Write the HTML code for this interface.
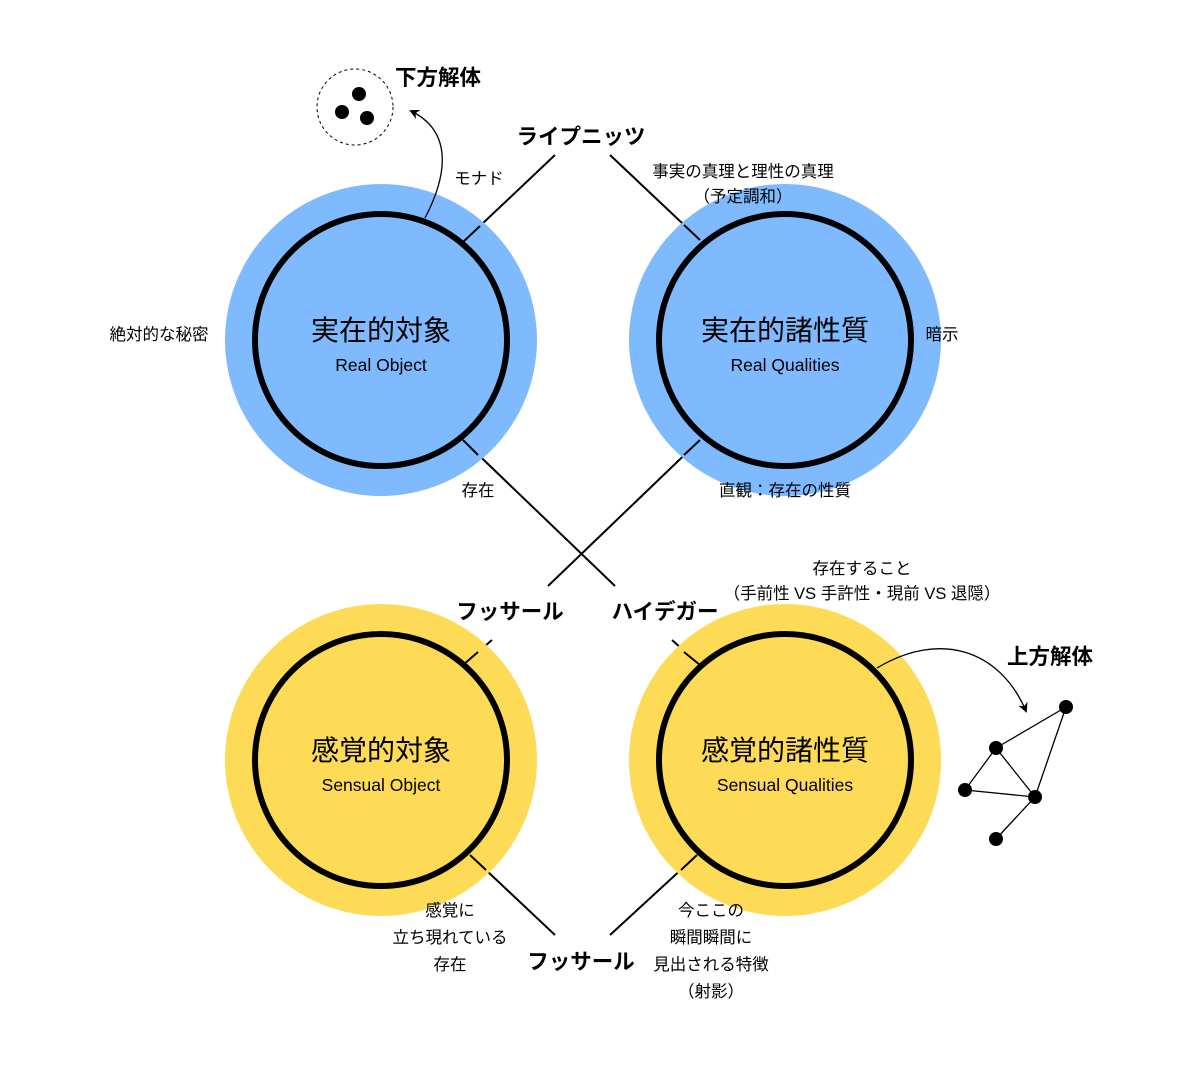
<!DOCTYPE html>
<html><head><meta charset="utf-8"><style>
html,body{margin:0;padding:0;background:#fff;}
svg text{font-family:"Liberation Sans","Noto Sans CJK JP",sans-serif;fill:#000;}
</style></head><body>
<svg width="1200" height="1070" viewBox="0 0 1200 1070" xmlns="http://www.w3.org/2000/svg">
<defs><marker id="ah" markerWidth="10" markerHeight="10" refX="8" refY="5" orient="auto" markerUnits="userSpaceOnUse"><path d="M0,0 L10,5 L0,10 L3,5 z" fill="#000"/></marker></defs>
<g stroke="#000" stroke-width="2">
<line x1="555" y1="155" x2="463" y2="242"/>
<line x1="610" y1="155" x2="700" y2="240"/>
<line x1="463" y1="440" x2="615" y2="586"/>
<line x1="700" y1="440" x2="548" y2="586"/>
<line x1="492" y1="640" x2="463" y2="665"/>
<line x1="672" y1="640" x2="700" y2="665"/>
<line x1="470" y1="855" x2="555" y2="935"/>
<line x1="697" y1="855" x2="610" y2="935"/>
</g>
<circle cx="381" cy="340" r="156" fill="#7fbafe"/>
<circle cx="785" cy="340" r="156" fill="#7fbafe"/>
<circle cx="381" cy="760" r="156" fill="#fddb57"/>
<circle cx="785" cy="760" r="156" fill="#fddb57"/>
<g fill="none" stroke="#000" stroke-width="6">
<circle cx="381" cy="340" r="126"/><circle cx="785" cy="340" r="126"/>
<circle cx="381" cy="760" r="126"/><circle cx="785" cy="760" r="126"/>
</g>
<g stroke="#000" stroke-width="2">
<line x1="463" y1="242" x2="480" y2="226"/><line x1="700" y1="240" x2="684" y2="225"/>
<line x1="463" y1="440" x2="478" y2="455"/><line x1="700" y1="440" x2="684" y2="455"/>
<line x1="463" y1="665" x2="478" y2="652"/><line x1="700" y1="665" x2="684" y2="652"/>
<line x1="470" y1="855" x2="486" y2="870"/><line x1="697" y1="855" x2="681" y2="870"/>
</g>
<circle cx="355" cy="107" r="38" fill="none" stroke="#000" stroke-width="1" stroke-dasharray="3,3"/>
<circle cx="359" cy="94" r="7"/><circle cx="342" cy="112" r="7"/><circle cx="367" cy="118" r="7"/>
<path d="M425,218 C450,170 450,130 411,111" fill="none" stroke="#000" stroke-width="1.3" marker-end="url(#ah)"/>
<path d="M877,668 C940,630 1000,650 1026,711" fill="none" stroke="#000" stroke-width="1.3" marker-end="url(#ah)"/>
<g stroke="#000" stroke-width="1.3">
<line x1="1066" y1="707" x2="996" y2="748"/><line x1="1066" y1="707" x2="1035" y2="797"/>
<line x1="996" y1="748" x2="965" y2="790"/><line x1="996" y1="748" x2="1035" y2="797"/>
<line x1="965" y1="790" x2="1035" y2="797"/><line x1="1035" y1="797" x2="996" y2="839"/>
</g>
<circle cx="1066" cy="707" r="7"/><circle cx="996" cy="748" r="7"/><circle cx="965" cy="790" r="7"/><circle cx="1035" cy="797" r="7"/><circle cx="996" cy="839" r="7"/>
<g text-anchor="middle">
<text x="381" y="340" font-size="28">実在的対象</text>
<text x="381" y="371" font-size="17.5">Real Object</text>
<text x="785" y="340" font-size="28">実在的諸性質</text>
<text x="785" y="371" font-size="17.5">Real Qualities</text>
<text x="381" y="760" font-size="28">感覚的対象</text>
<text x="381" y="791" font-size="17.5">Sensual Object</text>
<text x="785" y="760" font-size="28">感覚的諸性質</text>
<text x="785" y="791" font-size="17.5">Sensual Qualities</text>
<g font-weight="bold" font-size="21.5">
<text x="438" y="85">下方解体</text>
<text x="581" y="144">ライプニッツ</text>
<text x="510" y="619">フッサール</text>
<text x="665" y="619">ハイデガー</text>
<text x="1050" y="664">上方解体</text>
<text x="581" y="969">フッサール</text>
</g>
<g font-size="16.5">
<text x="479" y="184">モナド</text>
<text x="743" y="177">事実の真理と理性の真理</text>
<text x="743" y="202">（予定調和）</text>
<text x="159" y="340">絶対的な秘密</text>
<text x="942" y="340">暗示</text>
<text x="478" y="496">存在</text>
<text x="785" y="496">直観：存在の性質</text>
<text x="862" y="574">存在すること</text>
<text x="862" y="599">（手前性 VS 手許性・現前 VS 退隠）</text>
<text x="450" y="916">感覚に</text>
<text x="450" y="943">立ち現れている</text>
<text x="450" y="970">存在</text>
<text x="711" y="916">今ここの</text>
<text x="711" y="943">瞬間瞬間に</text>
<text x="711" y="970">見出される特徴</text>
<text x="711" y="997">（射影）</text>
</g>
</g>
</svg>
</body></html>
